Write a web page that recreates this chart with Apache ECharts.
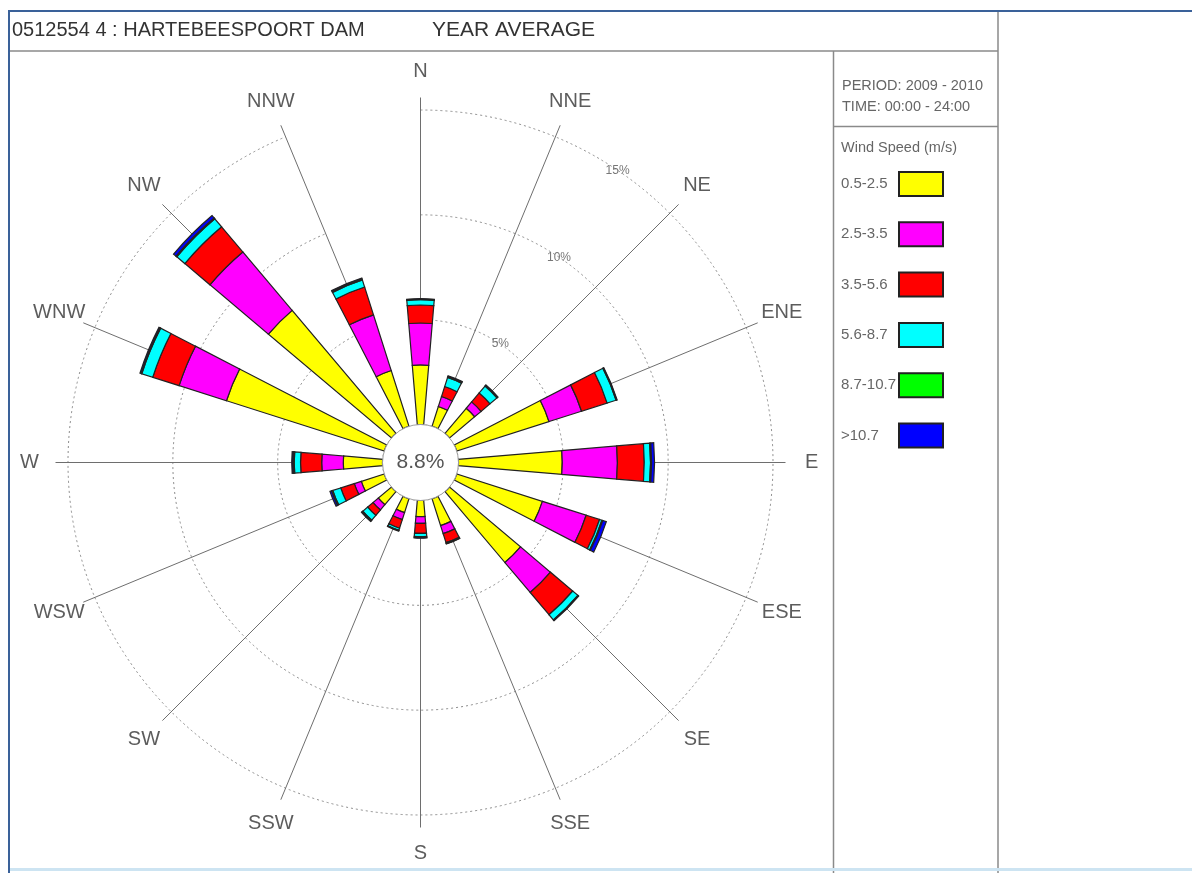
<!DOCTYPE html>
<html><head><meta charset="utf-8">
<script src="https://cdn.jsdelivr.net/npm/echarts@6/dist/echarts.min.js"></script>
<style>html,body{margin:0;padding:0;background:#fff}#c{width:1192px;height:873px}</style>
</head><body><div id="c"></div>
<script>
// ---- data ----
const DIRECTIONS = ['N','NNE','NE','ENE','E','ESE','SE','SSE','S','SSW','SW','WSW','W','WNW','NW','NNW'];
const SPEED_CLASSES = ['0.5-2.5','2.5-3.5','3.5-5.6','5.6-8.7','8.7-10.7','>10.7'];
const SPEED_COLORS = ['#ffff00','#ff00ff','#ff0000','#00ffff','#00ff00','#0000ff'];
// frequency (%) per direction, order as DIRECTIONS
const SPEED_0_5_2_5  = [2.84,0.99,1.57,4.62,4.95,4.29,4.43,1.35,0.77,0.70,0.82,1.15,1.87,7.90,7.68,2.79];
const SPEED_2_5_3_5  = [2.00,0.50,0.40,1.63,2.63,2.19,1.87,0.40,0.32,0.35,0.33,0.35,1.03,2.37,3.65,2.79];
const SPEED_3_5_5_6  = [0.86,0.50,0.56,1.28,1.28,0.67,1.39,0.45,0.48,0.43,0.34,0.68,1.01,1.32,1.57,1.39];
const SPEED_5_6_8_7  = [0.25,0.45,0.43,0.45,0.30,0.12,0.32,0.04,0.15,0.10,0.30,0.40,0.30,0.55,0.50,0.35];
const SPEED_8_7_10_7 = [0.03,0.05,0.04,0.03,0.05,0.04,0.03,0.01,0.05,0.02,0.05,0.06,0.06,0.03,0.05,0.05];
const SPEED_GT_10_7  = [0.02,0.04,0.03,0.02,0.14,0.18,0.02,0.01,0.03,0.02,0.03,0.08,0.06,0.06,0.15,0.05];
const CALM = 8.8;
const RING_TICKS = [5, 10, 15];
const TITLE = '0512554 4 : HARTEBEESPOORT DAM';
const SUBTITLE = 'YEAR AVERAGE';
const PERIOD = 'PERIOD: 2009 - 2010';
const TIME = 'TIME: 00:00 - 24:00';
const LEGEND_TITLE = 'Wind Speed (m/s)';

const SERIES_VALUES = [SPEED_0_5_2_5, SPEED_2_5_3_5, SPEED_3_5_5_6, SPEED_5_6_8_7, SPEED_8_7_10_7, SPEED_GT_10_7];

// ---- layout ----
const FONT = "'Liberation Sans', Arial, sans-serif";
const CENTER = [420.5, 462.5];
const R_IN = 38;
const R_RINGS = 352.5, RING_MAX = 15;     // polar for bars & dotted rings
const R_SPOKES = 365, SPOKE_MAX = 15.6;   // polar for spokes (same scale)
const LABEL_R = 16.84;                    // radius (axis units) of direction names
const RING_LABEL_BEARING = 34;

const chart = echarts.init(document.getElementById('c'), null, {renderer: 'canvas'});

const barSeries = SPEED_CLASSES.map((name, i) => ({
  name: name,
  type: 'bar',
  coordinateSystem: 'polar',
  polarIndex: 0,
  stack: 'wind',
  barWidth: '43%',
  data: SERIES_VALUES[i],
  itemStyle: {color: SPEED_COLORS[i], borderColor: '#222', borderWidth: 1.2},
  emphasis: {disabled: true},
  silent: true,
  z: 3
}));

const lineStyleFrame = {stroke: '#8a8a8a', lineWidth: 1.5};
const blue = {stroke: '#3a6199', lineWidth: 2};

chart.setOption({
  animation: false,
  backgroundColor: '#ffffff',
  textStyle: {fontFamily: FONT},
  title: [
    {text: TITLE, left: 12, top: 20, padding: 0,
     textStyle: {fontSize: 20, fontWeight: 'normal', color: '#333', fontFamily: FONT}},
    {text: SUBTITLE, left: 432, top: 19.5, padding: 0,
     textStyle: {fontSize: 21, fontWeight: 'normal', color: '#333', fontFamily: FONT}},
    {text: PERIOD, left: 842, top: 78, padding: 0,
     textStyle: {fontSize: 14.5, fontWeight: 'normal', color: '#666', fontFamily: FONT}},
    {text: TIME, left: 842, top: 99.5, padding: 0,
     textStyle: {fontSize: 14.5, fontWeight: 'normal', color: '#666', fontFamily: FONT}},
    {text: LEGEND_TITLE, left: 841, top: 140.5, padding: 0,
     textStyle: {fontSize: 14.5, fontWeight: 'normal', color: '#666', fontFamily: FONT}}
  ],
  legend: {
    orient: 'vertical',
    left: 841, top: 171,
    padding: 0,
    align: 'right',
    icon: 'rect',
    itemWidth: 44, itemHeight: 24, itemGap: 24.3,
    selectedMode: false,
    data: SPEED_CLASSES,
    formatter: n => '{t|' + n + '}',
    textStyle: {
      color: '#666', fontSize: 15, fontFamily: FONT,
      rich: {t: {width: 53, align: 'left', color: '#666', fontSize: 15, fontFamily: FONT}}
    }
  },
  polar: [
    {center: CENTER, radius: [R_IN, R_RINGS]},
    {center: CENTER, radius: [R_IN, R_SPOKES]}
  ],
  angleAxis: [
    {polarIndex: 0, type: 'category', data: DIRECTIONS, boundaryGap: false,
     startAngle: 90, clockwise: true,
     axisLine: {show: false}, axisTick: {show: false}, axisLabel: {show: false},
     splitLine: {show: false}},
    {polarIndex: 1, type: 'value', min: 0, max: 360, interval: 22.5,
     startAngle: 90, clockwise: true,
     axisLine: {show: false}, axisTick: {show: false}, axisLabel: {show: false},
     splitLine: {show: true, lineStyle: {color: '#6e6e6e', width: 1}}, z: 1}
  ],
  radiusAxis: [
    {polarIndex: 0, type: 'value', min: 0, max: RING_MAX, interval: 5,
     axisLine: {show: false}, axisTick: {show: false}, axisLabel: {show: false},
     splitLine: {show: true, lineStyle: {color: '#8c8c8c', width: 1, type: [2, 3]}}, z: 1},
    {polarIndex: 1, type: 'value', min: 0, max: SPOKE_MAX,
     axisLine: {show: false}, axisTick: {show: false}, axisLabel: {show: false},
     splitLine: {show: false}}
  ],
  series: [
    ...barSeries,
    {
      type: 'scatter', coordinateSystem: 'polar', polarIndex: 0, clip: false,
      silent: true, symbolSize: 1, itemStyle: {color: 'rgba(0,0,0,0)'},
      data: DIRECTIONS.map(d => [LABEL_R, d]),
      label: {show: true, position: 'inside', formatter: p => p.value[1],
              fontSize: 20, color: '#333', fontFamily: FONT},
      z: 5
    },
    {
      type: 'scatter', coordinateSystem: 'polar', polarIndex: 1, clip: false,
      silent: true, symbolSize: 1, itemStyle: {color: 'rgba(0,0,0,0)'},
      data: RING_TICKS.map(v => [v, RING_LABEL_BEARING]),
      label: {show: true, position: 'inside', formatter: p => p.value[0] + '%',
              fontSize: 12, color: '#555', fontFamily: FONT},
      z: 5
    },
    {
      type: 'pie', center: CENTER, radius: [0, R_IN], silent: true,
      startAngle: 90, z: 6,
      data: [{name: 'Calm', value: CALM}],
      itemStyle: {color: '#ffffff', borderColor: '#a0a0a0', borderWidth: 1},
      label: {show: true, position: 'center', formatter: CALM.toFixed(1) + '%',
              fontSize: 21, color: '#555', fontFamily: FONT},
      labelLine: {show: false},
      emphasis: {disabled: true}
    }
  ],
  graphic: [
    {type: 'line', shape: {x1: 10, y1: 51, x2: 998, y2: 51}, style: lineStyleFrame, silent: true},
    {type: 'line', shape: {x1: 998, y1: 11, x2: 998, y2: 873}, style: lineStyleFrame, silent: true},
    {type: 'line', shape: {x1: 833.5, y1: 51, x2: 833.5, y2: 873}, style: lineStyleFrame, silent: true},
    {type: 'line', shape: {x1: 833.5, y1: 126.5, x2: 998, y2: 126.5}, style: lineStyleFrame, silent: true},
    {type: 'line', shape: {x1: 10, y1: 869.5, x2: 1192, y2: 869.5}, style: {stroke: '#cde4f2', lineWidth: 3}, silent: true},
    {type: 'line', shape: {x1: 8, y1: 11, x2: 1192, y2: 11}, style: blue, silent: true},
    {type: 'line', shape: {x1: 9, y1: 11, x2: 9, y2: 873}, style: blue, silent: true}
  ]
});
</script>
</body></html>
